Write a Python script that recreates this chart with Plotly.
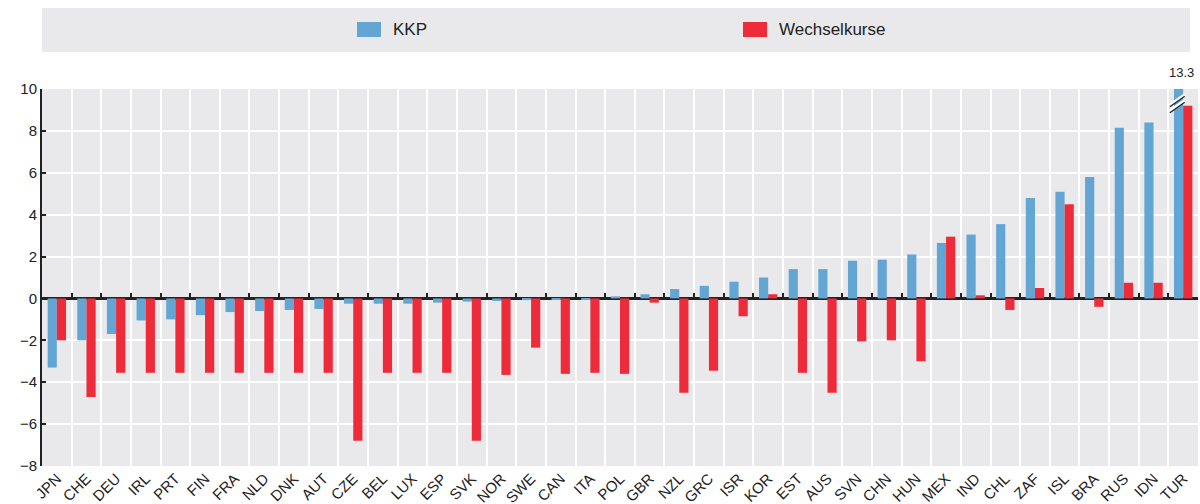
import plotly.graph_objects as go

countries = ["JPN","CHE","DEU","IRL","PRT","FIN","FRA","NLD","DNK","AUT","CZE","BEL","LUX","ESP","SVK","NOR","SWE","CAN","ITA","POL",
             "GBR","NZL","GRC","ISR","KOR","EST","AUS","SVN","CHN","HUN","MEX","IND","CHL","ZAF","ISL","BRA","RUS","IDN","TUR"]
kkp = [-3.3,-2.0,-1.7,-1.05,-1.0,-0.8,-0.65,-0.6,-0.55,-0.5,-0.25,-0.25,-0.25,-0.2,-0.15,-0.12,-0.08,-0.05,-0.03,0.1,
       0.2,0.45,0.6,0.8,1.0,1.4,1.4,1.8,1.85,2.1,2.65,3.05,3.55,4.8,5.1,5.8,8.15,8.4,13.3]
wechsel = [-2.0,-4.7,-3.55,-3.55,-3.55,-3.55,-3.55,-3.55,-3.55,-3.55,-6.8,-3.55,-3.55,-3.55,-6.8,-3.65,-2.35,-3.6,-3.55,-3.6,
           -0.2,-4.5,-3.45,-0.85,0.2,-3.55,-4.5,-2.05,-2.0,-3.0,2.95,0.15,-0.55,0.5,4.5,-0.4,0.75,0.75,9.2]
series_names = ["KKP", "Wechselkurse"]
y_ticks = [-8,-6,-4,-2,0,2,4,6,8,10]
y_min, y_max = -8, 10

BLUE = "#63A6D3"
RED = "#EE2B3A"
FONT = "Liberation Sans Narrow, Arial Narrow, Liberation Sans, Arial"

W, H = 1200, 504
ML, MR, MT, MB = 42, 2, 89, 38
PW, PH = W - ML - MR, H - MT - MB

def px_x(px):
    return (px - ML) / PW

def px_y(py):
    return (H - MB - py) / PH

fig = go.Figure()
fig.add_trace(go.Bar(x=countries, y=kkp, name=series_names[0], marker=dict(color=BLUE, line=dict(width=0))))
fig.add_trace(go.Bar(x=countries, y=wechsel, name=series_names[1], marker=dict(color=RED, line=dict(width=0))))
# invisible trace carrying the zero-line tick axis
fig.add_trace(go.Scatter(x=countries, y=[0]*len(countries), xaxis="x2", mode="markers",
                         marker=dict(opacity=0), showlegend=False, hoverinfo="skip"))

n = len(countries)
zero_frac = (0 - y_min) / (y_max - y_min)

fig.update_layout(
    width=W, height=H,
    margin=dict(l=ML, r=MR, t=MT, b=MB, autoexpand=False),
    paper_bgcolor="white",
    plot_bgcolor="#E9E9EC",
    barmode="group", bargap=0.38, bargroupgap=0,
    font=dict(family=FONT, size=15, color="#222"),
    showlegend=False,
    xaxis=dict(type="category", categoryorder="array", categoryarray=countries,
               range=[-0.5, n - 0.5], showgrid=True, gridcolor="white", gridwidth=2,
               tickson="boundaries", ticks="", tickangle=-45, showline=False, zeroline=False,
               automargin=False, tickfont=dict(size=15, color="#222")),
    xaxis2=dict(type="category", categoryorder="array", categoryarray=countries, overlaying="x",
                range=[-0.5, n - 0.5], anchor="free", position=zero_frac, side="bottom",
                showgrid=False, tickson="boundaries", ticks="inside", ticklen=5, tickwidth=2,
                tickcolor="#222", showticklabels=False, showline=False, zeroline=False),
    yaxis=dict(range=[y_min, y_max], tickvals=y_ticks, showgrid=True, gridcolor="white", gridwidth=2,
               zeroline=True, zerolinecolor="#222", zerolinewidth=2.5, automargin=False,
               showline=True, linecolor="#222", linewidth=2, ticks="inside", ticklen=4, tickwidth=2,
               tickcolor="#222", tickfont=dict(size=15, color="#222")),
)

# legend band
fig.add_shape(type="rect", xref="paper", yref="paper", x0=px_x(42), x1=px_x(1190),
              y0=px_y(52), y1=px_y(8), fillcolor="#E9E9EC", line=dict(width=0), layer="below")
# custom legend entries
legend_items = [(series_names[0], BLUE, 357), (series_names[1], RED, 743)]
for name, col, sx in legend_items:
    fig.add_shape(type="rect", xref="paper", yref="paper", x0=px_x(sx), x1=px_x(sx + 24),
                  y0=px_y(37), y1=px_y(22), fillcolor=col, line=dict(width=0))
    fig.add_annotation(xref="paper", yref="paper", x=px_x(sx + 34), y=px_y(29.5), text=name,
                       showarrow=False, xanchor="left", yanchor="middle",
                       font=dict(size=17, color="#222"))

# break marker on TUR bar and its value label
i_tur = countries.index("TUR")
for dy in (0.0, 0.28):
    fig.add_shape(type="line", xref="x", yref="y",
                  x0=i_tur - 0.45, x1=i_tur + 0.05, y0=8.95 + dy, y1=9.45 + dy,
                  line=dict(color="white", width=3))
for dy in (0.0, 0.28):
    fig.add_shape(type="line", xref="x", yref="y",
                  x0=i_tur - 0.45, x1=i_tur + 0.05, y0=8.87 + dy, y1=9.37 + dy,
                  line=dict(color="#222", width=1.3))
fig.add_annotation(x=countries[i_tur], y=y_max, text=str(kkp[i_tur]), showarrow=False,
                   yanchor="bottom", yshift=7, xshift=-2, font=dict(size=13, color="#222"))

fig.write_html("out.html", config={"displayModeBar": False},
               post_script="document.body.style.margin='0px';")
